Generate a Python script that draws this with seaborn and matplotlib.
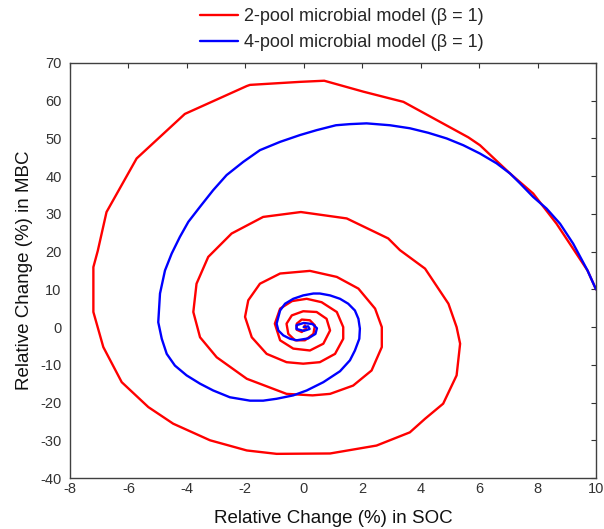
import matplotlib
matplotlib.use("Agg")
import matplotlib.pyplot as plt
import seaborn as sns
import pandas as pd

# 2-pool microbial model trajectory (SOC %, MBC %)
red_soc = [10, 9.71, 8.65, 7.85, 7.06, 6.03, 5.63, 3.41, 2.95, 2.04, 0.7, -0.13, -1.84, -1.95,
           -4.07, -5.72, -6.75, -7.05, -7.2, -7.2, -6.86, -6.23, -5.32, -4.47, -3.21, -1.95,
           -0.93, 0.9, 2.49, 3.63, 4.15, 4.77, 5.23, 5.35, 5.23, 4.95, 4.15, 3.29, 2.89, 1.47,
           -0.1, -1.39, -2.47, -3.27, -3.67, -3.78, -3.55, -2.98, -1.95, -0.59, 0.3, 0.9, 1.69,
           2.32, 2.67, 2.67, 2.44, 1.87, 1.13, 0.21, -0.81, -1.5, -1.9, -2.01, -1.78, -1.27,
           -0.59, -0.02, 0.55, 1.07, 1.35, 1.35, 1.13, 0.61, 0.1, -0.4, -0.81, -0.99, -0.81,
           -0.36, 0.21, 0.67, 0.9, 0.78, 0.44, -0.02, -0.41, -0.59, -0.53, -0.3, 0.04, 0.33,
           0.38, 0.21, -0.07, -0.24, -0.24, -0.07, 0.08, 0.04, 0.0]
red_mbc = [10, 15, 27.4, 35.4, 40.7, 48.2, 50.3, 59.7, 60.6, 62.4, 65.3, 65.0, 64.2, 63.9,
           56.5, 44.7, 30.5, 20.2, 15.9, 4.0, -5.3, -14.6, -21.2, -25.6, -30.0, -32.7,
           -33.6, -33.5, -31.4, -27.9, -24.3, -20.3, -12.8, -4.4, 0.0, 6.2, 15.5, 20.4, 23.5, 28.8,
           30.5, 29.2, 24.8, 18.6, 11.5, 4.0, -2.7, -8.0, -13.7, -17.7, -18.1, -17.7, -15.5,
           -11.5, -5.3, 0.0, 4.9, 10.2, 13.3, 14.9, 14.2, 11.5, 7.1, 2.7, -2.7, -7.1,
           -9.3, -9.7, -9.3, -7.1, -3.1, 0.0, 4.0, 6.6, 7.5, 6.9, 4.9, 0.9, -3.5,
           -5.7, -6.2, -4.4, -0.9, 2.2, 4.0, 4.2, 3.1, 0.9, -1.8, -3.5, -3.5, -1.8,
           0.45, 1.8, 2.0, 0.9, -0.7, -1.3, -0.4, 0.45, 0.0]

# 4-pool microbial model trajectory (SOC %, MBC %)
blue_soc = [10, 9.71, 9.22, 8.77, 8.31, 7.85, 7.4, 7.06, 6.6, 6.03, 5.46, 4.89, 4.26, 3.63,
            2.95, 2.15, 1.58, 1.1, 0.44, -0.13, -0.81, -1.5, -2.07, -2.64, -3.1, -3.55,
            -3.95, -4.24, -4.52, -4.75, -4.92, -4.98, -4.86, -4.69, -4.41, -4.01, -3.55,
            -3.1, -2.53, -1.84, -1.39, -0.93, -0.36, 0.1, 0.67, 1.24, 1.58, 1.75, 1.9, 1.92,
            1.87, 1.75, 1.52, 1.24, 0.9, 0.55, 0.33, -0.02, -0.36, -0.64, -0.81, -0.93,
            -0.87, -0.7, -0.47, -0.24, 0.15, 0.4, 0.45, 0.3, 0.0, -0.25, -0.25, 0.0, 0.2,
            0.15, 0.0]
blue_mbc = [10, 15, 22.1, 27.4, 31.4, 34.5, 38.1, 40.7, 43.4, 46.0, 48.2, 50.0, 51.5, 52.7,
            53.5, 54.0, 53.8, 53.5, 52.2, 50.9, 49.1, 46.9, 43.8, 40.3, 36.3, 31.9,
            27.9, 23.9, 19.5, 15.0, 8.9, 1.3, -3.1, -7.1, -10.2, -12.8, -15.0,
            -16.8, -18.6, -19.5, -19.5, -19.0, -18.1, -16.8, -14.6, -11.7, -8.8, -6.2, -3.1, -0.4,
            2.2, 4.4, 6.2, 7.5, 8.4, 8.9, 8.9, 8.4, 7.5, 6.2, 4.4, 0.9,
            -0.9, -2.2, -3.1, -3.5, -3.0, -1.8, -0.3, 0.8, 1.1, 0.5, -0.5, -1.0, -0.5,
            0.2, 0.0]

labels = ["2-pool microbial model (\u03b2 = 1)", "4-pool microbial model (\u03b2 = 1)"]
x_ticks = [-8, -6, -4, -2, 0, 2, 4, 6, 8, 10]
y_ticks = [-40, -30, -20, -10, 0, 10, 20, 30, 40, 50, 60, 70]

sns.set_style("white")
plt.rcParams["font.family"] = ["Liberation Sans", "DejaVu Sans"]
plt.rcParams["axes.unicode_minus"] = False
plt.rcParams["xtick.direction"] = "in"
plt.rcParams["ytick.direction"] = "in"

fig = plt.figure(figsize=(6.04, 5.29), dpi=100)
ax = fig.add_axes([70 / 604, 1 - 478 / 529, 526 / 604, 415 / 529])

df_red = pd.DataFrame({"SOC": red_soc, "MBC": red_mbc})
df_blue = pd.DataFrame({"SOC": blue_soc, "MBC": blue_mbc})
sns.lineplot(data=df_red, x="SOC", y="MBC", sort=False, estimator=None, color="#ff0000",
             linewidth=1.7, ax=ax, label=labels[0])
sns.lineplot(data=df_blue, x="SOC", y="MBC", sort=False, estimator=None, color="#0000ff",
             linewidth=1.7, ax=ax, label=labels[1])

ax.set_xlim(-8, 10)
ax.set_ylim(-40, 70)
ax.set_xticks(x_ticks)
ax.set_yticks(y_ticks)
ax.tick_params(axis="both", which="both", direction="in", length=3.6, width=0.8,
               top=True, right=True, labelsize=10.5, colors="#333333")
ax.tick_params(axis="x", pad=3.0)
ax.tick_params(axis="y", pad=6.0)
for s in ax.spines.values():
    s.set_color("#404040")
    s.set_linewidth(1.0)

ax.set_xlabel("Relative Change (%) in SOC", fontsize=13.5, color="#111111")
ax.set_ylabel("Relative Change (%) in MBC", fontsize=13.5, color="#111111")
ax.xaxis.set_label_coords(0.5, -0.078)
ax.yaxis.set_label_coords(-0.07, 0.5)

handles, labs = ax.get_legend_handles_labels()
ax.get_legend().remove()
fig.legend(handles, labs, loc="upper left", bbox_to_anchor=(200 / 604, 1 - 8 / 529),
           frameon=False, fontsize=13, borderpad=0, borderaxespad=0,
           handlelength=2.1, handletextpad=0.35, labelspacing=0.5)

fig.savefig("out.png", dpi=100)
